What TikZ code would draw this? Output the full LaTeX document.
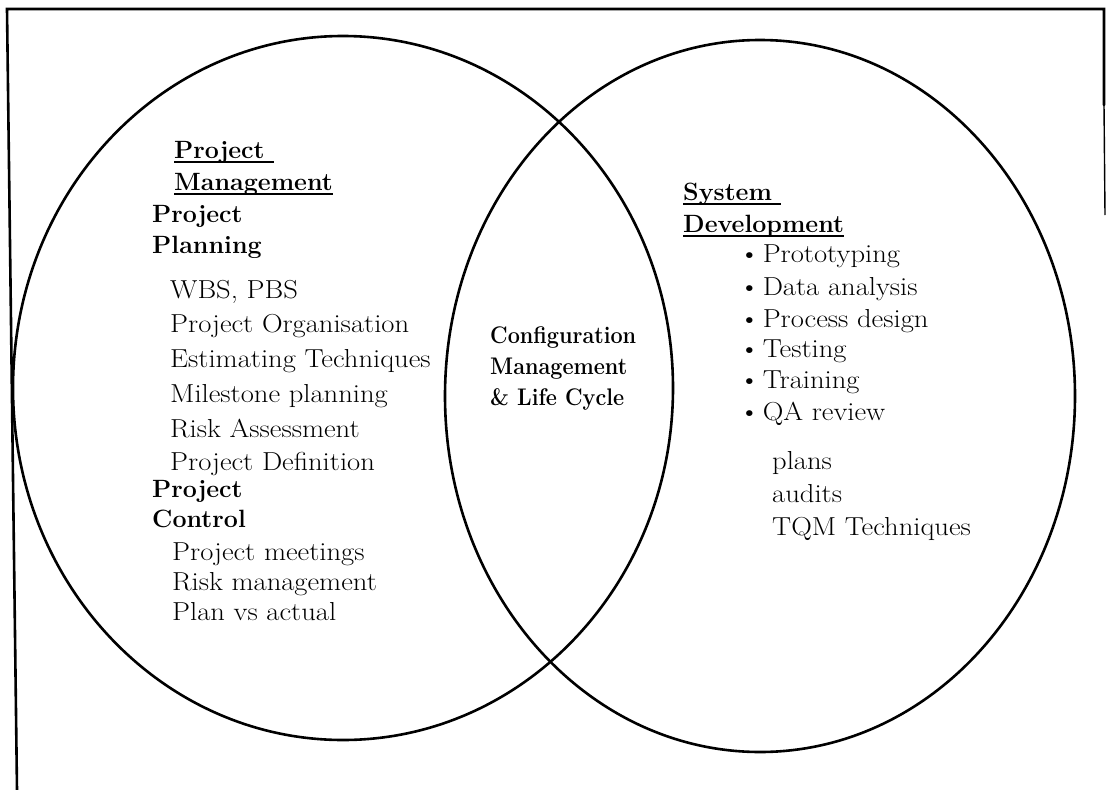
\documentclass[tikz,border=0pt]{standalone}
\usepackage{fontspec}
\setmainfont{Latin Modern Roman}[FakeStretch=1.1]
\newfontfamily\headfont{Latin Modern Roman}[FakeStretch=1.0]
\newfontfamily\centrefont{Latin Modern Roman}[FakeStretch=0.9]
\usetikzlibrary{shapes.geometric}
% heading underline drawn at a fixed depth below the baseline
\newcommand\ulbold[1]{\setbox0=\hbox{#1}\rlap{\rule[-5pt]{\wd0}{1.8pt}}\box0}
\begin{document}
\begin{tikzpicture}[x=1pt,y=-1pt,
  venn/.style={draw, ellipse, line width=2.6pt, inner sep=0pt},
  item/.style={anchor=base west, inner sep=0pt, font=\fontsize{26}{30}\selectfont},
  head/.style={anchor=base west, inner sep=0pt, font=\headfont\fontsize{25}{28}\selectfont\bfseries},
  centre/.style={anchor=base west, inner sep=0pt, font=\centrefont\fontsize{24}{28}\selectfont\bfseries},
  frameline/.style={line width=2.6pt, line cap=round}]
\useasboundingbox (0,0) rectangle (1106,790);

% the two overlapping sets
\node[venn, minimum width=660pt, minimum height=704pt] (pm) at (343,388) {};
\node[venn, minimum width=630pt, minimum height=712pt] (sd) at (760,396) {};

% open page frame
\coordinate (fbl) at (17,790);
\coordinate (ftl) at (7,9);
\coordinate (ftr) at (1104,9);
\coordinate (frm) at (1104,105);
\coordinate (fre) at (1105,215);
\draw[frameline] (fbl) -- (ftl) -- (ftr) -- (frm);
\draw[line width=1.4pt] (frm) -- (fre);

% project management set
\node[head] (pmh1) at (174,158) {\ulbold{Project\ }};
\node[head] (pmh2) at (174,190) {\ulbold{Management}};
\node[head] (pph1) at (152,222) {Project};
\node[head] (pph2) at (152,253) {Planning};
\node[item] (pp1) at (170,298) {WBS, PBS};
\node[item] (pp2) at (170,332) {Project Organisation};
\node[item] (pp3) at (170,367) {Estimating Techniques};
\node[item] (pp4) at (170,402) {Milestone planning};
\node[item] (pp5) at (170,437) {Risk Assessment};
\node[item] (pp6) at (170,470) {Project Definition};
\node[head] (pch1) at (152,497) {Project};
\node[head] (pch2) at (152,527) {Control};
\node[item] (pc1) at (172,560) {Project meetings};
\node[item] (pc2) at (172,590) {Risk management};
\node[item] (pc3) at (172,620) {Plan vs actual};

% overlap
\node[centre] (cm1) at (490,343) {Configuration};
\node[centre] (cm2) at (490,374) {Management};
\node[centre] (cm3) at (490,405) {\& Life Cycle};

% system development set
\node[head] (sdh1) at (683,200) {\ulbold{System\ }};
\node[head] (sdh2) at (683,232) {\ulbold{Development}};
\node[item] (sd1) at (739,262) {\textbullet\hspace{3pt}Prototyping};
\node[item] (sd2) at (739,295) {\textbullet\hspace{3pt}Data analysis};
\node[item] (sd3) at (739,327) {\textbullet\hspace{3pt}Process design};
\node[item] (sd4) at (739,357) {\textbullet\hspace{3pt}Testing};
\node[item] (sd5) at (739,388) {\textbullet\hspace{3pt}Training};
\node[item] (sd6) at (739,420) {\textbullet\hspace{3pt}QA review};
\node[item] (qa1) at (772,469) {plans};
\node[item] (qa2) at (772,502) {audits};
\node[item] (qa3) at (772,535) {TQM Techniques};
\end{tikzpicture}
\end{document}
